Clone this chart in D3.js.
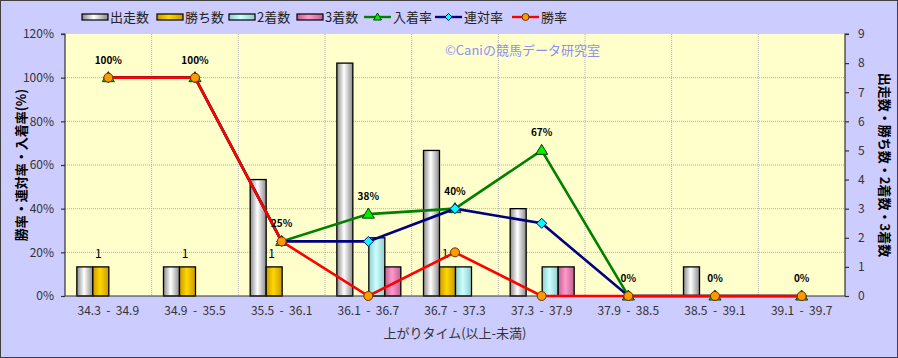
<!DOCTYPE html>
<html><head><meta charset="utf-8">
<script src="https://cdn.jsdelivr.net/npm/d3@7"></script>
<style>body{margin:0;background:#fff}svg{display:block}text{font-family:"Noto Sans CJK JP","Noto Sans",sans-serif}</style>
</head><body><svg id="c" width="898" height="358"></svg>
<script>
const categories = ["34.3 - 34.9","34.9 - 35.5","35.5 - 36.1","36.1 - 36.7","36.7 - 37.3","37.3 - 37.9","37.9 - 38.5","38.5 - 39.1","39.1 - 39.7"];
const runners = [1,1,4,8,5,3,0,1,0];
const wins    = [1,1,1,0,1,0,0,0,0];
const seconds = [0,0,0,2,1,1,0,0,0];
const thirds  = [0,0,0,1,0,1,0,0,0];
const placeRate = [100,100,25,37.5,40,66.7,0,0,0];
const top2Rate  = [100,100,25,25,40,33.3,0,0,0];
const winRate   = [100,100,25,0,20,0,0,0,0];
const leftTicks = [0,20,40,60,80,100,120];
const rightTicks = [0,1,2,3,4,5,6,7,8,9];

const svg = d3.select("#c");
const W=898,H=358;
const m={l:65,r:845,t:34,b:296};
svg.append("rect").attr("x",0.5).attr("y",0.5).attr("width",W-1).attr("height",H-1).attr("fill","#CCCCFF").attr("stroke","#404040");

const defs=svg.append("defs");
function grad(id,edge,mid){
  const g=defs.append("linearGradient").attr("id",id).attr("x1","0").attr("x2","1").attr("y1","0").attr("y2","0");
  g.append("stop").attr("offset","0").attr("stop-color",edge);
  g.append("stop").attr("offset","0.45").attr("stop-color",mid);
  g.append("stop").attr("offset","1").attr("stop-color",edge);
}
grad("gW","#8a8a8a","#ffffff");
grad("gG","#c89a00","#ffd700");
grad("gC","#8fcccc","#ccffff");
grad("gP","#c0608f","#ff99cc");

const x=d3.scaleBand().domain(categories).range([m.l,m.r]).padding(0);
const yL=d3.scaleLinear().domain([0,120]).range([m.b,m.t]);
const yR=d3.scaleLinear().domain([0,9]).range([m.b,m.t]);

svg.append("rect").attr("x",m.l).attr("y",m.t).attr("width",m.r-m.l).attr("height",m.b-m.t).attr("fill","#FFFFCC");

// grid
const g=svg.append("g");
leftTicks.slice(1,-1).forEach(t=>g.append("line").attr("x1",m.l).attr("x2",m.r).attr("y1",yL(t)).attr("y2",yL(t)).attr("stroke","#b0b0b0").attr("stroke-dasharray","1,1"));
categories.slice(1).forEach(c=>g.append("line").attr("x1",x(c)).attr("x2",x(c)).attr("y1",m.t).attr("y2",m.b).attr("stroke","#b0b0b0").attr("stroke-dasharray","1,1"));

// watermark
svg.append("text").attr("x",445).attr("y",55).attr("fill","#9090F0").attr("font-size",13).text("©Caniの競馬データ研究室");

// bars
const bw=16;
const series=[[runners,"url(#gW)"],[wins,"url(#gG)"],[seconds,"url(#gC)"],[thirds,"url(#gP)"]];
const bx=d3.scaleBand().domain([0,1,2,3]).range([0,bw*4]);
series.forEach(([arr,fill],si)=>{
  svg.append("g").selectAll("rect").data(arr.map((v,i)=>({v,i})).filter(d=>d.v>0)).join("rect")
    .attr("x",d=>x(categories[d.i])+x.bandwidth()/2-bw*2+bx(si)+0.5)
    .attr("y",d=>yR(d.v))
    .attr("width",bw).attr("height",d=>yR(0)-yR(d.v))
    .attr("fill",fill).attr("stroke","#000").attr("stroke-width",1.3);
});
// win count labels
svg.append("g").selectAll("text").data(wins.map((v,i)=>({v,i})).filter(d=>d.v>0)).join("text")
  .attr("x",d=>x(categories[d.i])+x.bandwidth()/2-bw*2+bx(1)+bw/2-2)
  .attr("y",d=>yR(d.v)-9).attr("text-anchor","middle").attr("font-size",12).attr("fill","#000")
  .attr("font-family","'Liberation Sans',Arial,sans-serif").text(d=>d.v);

// axes
const axL=svg.append("g").attr("transform",`translate(${m.l},0)`).call(d3.axisLeft(yL).tickValues(leftTicks).tickFormat(d=>d+"%").tickSize(4).tickPadding(7));
const axR=svg.append("g").attr("transform",`translate(${m.r},0)`).call(d3.axisRight(yR).tickValues(rightTicks).tickSize(4).tickPadding(9));
const axB=svg.append("g").attr("transform",`translate(0,${m.b})`).call(d3.axisBottom(x).tickSize(0).tickPadding(10));
[axL,axR,axB].forEach(a=>{a.selectAll("path,line").attr("stroke","#333").attr("stroke-width",1.2);a.selectAll("text").attr("font-size",12).attr("fill","#333").attr("font-family","'Liberation Sans',Arial,sans-serif");});
axB.select("path").remove();
axB.selectAll("text").text(d=>d.replace(" - ","  -  ")).attr("xml:space","preserve").style("white-space","pre");
svg.append("line").attr("x1",m.l).attr("x2",m.r).attr("y1",m.b).attr("y2",m.b).attr("stroke","#333").attr("stroke-width",1.2);
axL.select("path").attr("d",`M-4,${m.t}H0V${m.b}`);
axR.select("path").attr("d",`M4,${m.t}H0V${m.b}`);

// lines
const cx=i=>x(categories[i])+x.bandwidth()/2;
const line=d3.line().x((d,i)=>cx(i)).y(d=>yL(d));
function drawLine(arr,color,marker){
  svg.append("path").attr("d",line(arr)).attr("fill","none").attr("stroke",color).attr("stroke-width",2.6);
  const gg=svg.append("g");
  arr.forEach((v,i)=>{
    const px=cx(i),py=yL(v);
    if(marker==="tri") gg.append("path").attr("d",`M${px},${py-6}L${px+6},${py+4}L${px-6},${py+4}Z`).attr("fill","#00EE00").attr("stroke","#004000").attr("stroke-width",1);
    if(marker==="dia") gg.append("path").attr("d",`M${px},${py-5}L${px+5},${py}L${px},${py+5}L${px-5},${py}Z`).attr("fill","#00FFFF").attr("stroke","#000080").attr("stroke-width",1);
    if(marker==="cir") gg.append("circle").attr("cx",px).attr("cy",py).attr("r",4.5).attr("fill","#FF9900").attr("stroke","#663300").attr("stroke-width",1);
  });
}
drawLine(placeRate,"#008000","tri");
drawLine(top2Rate,"#000080","dia");
drawLine(winRate,"#FF0000","cir");

// rate labels
svg.append("g").selectAll("text").data(placeRate).join("text")
  .attr("x",(d,i)=>cx(i)).attr("y",d=>yL(d)-14).attr("text-anchor","middle")
  .attr("font-size",10).attr("font-weight","bold").attr("fill","#000").attr("font-family","'Liberation Sans',Arial,sans-serif")
  .text(d=>Math.round(d)+"%");

// axis titles
svg.append("text").attr("transform",`translate(26,165) rotate(-90)`).attr("text-anchor","middle").attr("font-size",13).attr("font-weight","bold").attr("fill","#000").text("勝率・連対率・入着率(%)");
svg.append("text").attr("transform",`translate(880,165) rotate(90)`).attr("text-anchor","middle").attr("font-size",13).attr("font-weight","bold").attr("fill","#000").text("出走数・勝ち数・2着数・3着数");
svg.append("text").attr("x",455).attr("y",338).attr("text-anchor","middle").attr("font-size",13).attr("fill","#333").text("上がりタイム(以上-未満)");

// legend
const legendNames=["出走数","勝ち数","2着数","3着数","入着率","連対率","勝率"];
const legendX=[82,157,229,297,364,435,512];
const lg=svg.append("g");
legendNames.forEach((n,i)=>{
  const lx=legendX[i],ly=17;
  if(i<4){
    lg.append("rect").attr("x",lx).attr("y",ly-3).attr("width",26).attr("height",6).attr("fill",series[i][1]).attr("stroke","#000").attr("stroke-width",1.2);
  } else {
    const col=["#008000","#000080","#FF0000"][i-4];
    lg.append("line").attr("x1",lx).attr("x2",lx+27).attr("y1",ly).attr("y2",ly).attr("stroke",col).attr("stroke-width",2.4);
    const px=lx+13.5;
    if(i===4) lg.append("path").attr("d",`M${px},${ly-4}L${px+4},${ly+3}L${px-4},${ly+3}Z`).attr("fill","#00EE00").attr("stroke","#004000");
    if(i===5) lg.append("path").attr("d",`M${px},${ly-3.5}L${px+3.5},${ly}L${px},${ly+3.5}L${px-3.5},${ly}Z`).attr("fill","#00FFFF").attr("stroke","#000080");
    if(i===6) lg.append("circle").attr("cx",px).attr("cy",ly).attr("r",3.5).attr("fill","#FF9900").attr("stroke","#663300");
  }
  lg.append("text").attr("x",lx+(i<4?28:29)).attr("y",ly+5).attr("font-size",13).attr("fill","#222").text(n);
});
</script></body></html>
